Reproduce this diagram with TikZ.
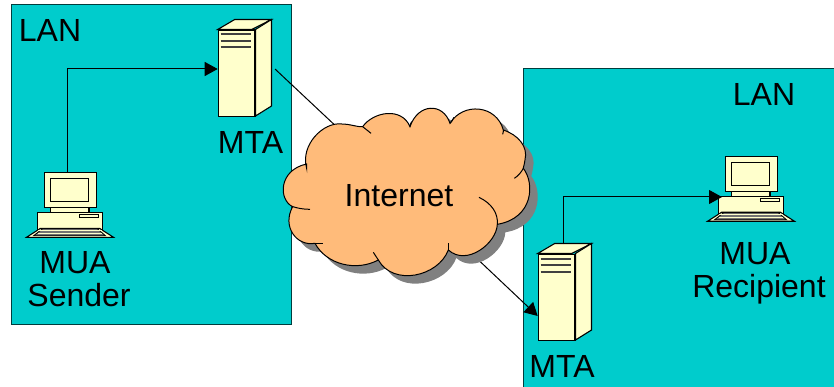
\documentclass[tikz,border=0pt]{standalone}
\usepackage{fontspec}
\setmainfont{Liberation Sans}
\usetikzlibrary{arrows.meta}
\definecolor{lancolor}{HTML}{00CCCC}
\definecolor{boxcolor}{HTML}{FFFFCC}
\definecolor{cloudcolor}{HTML}{FFBB7A}
\tikzset{
  lanbox/.style={draw=black!70!lancolor,fill=lancolor,line width=1pt},
  label/.style={font=\fontsize{32}{33}\selectfont,text=black,inner sep=0pt,align=center},
  serverface/.style={draw,fill=boxcolor,line width=1.1pt,minimum width=36.7pt,minimum height=86.5pt,inner sep=0pt},
  pcface/.style={draw,fill=boxcolor,line width=1.1pt,minimum width=52.7pt,minimum height=34.5pt,inner sep=0pt},
  link/.style={draw,line width=1pt},
  tip/.style={-{Triangle[length=13pt,width=14pt]}},
}
% the rest of a server, round its front face
\newcommand{\serverparts}[1]{
  \draw[fill=boxcolor,line width=1.1pt] (#1.north west)--++(17,-10)--++(36.7,0)--++(-19.7,10)--cycle;
  \draw[fill=boxcolor,line width=1.1pt] (#1.north east)--++(16,-10)--++(0,86.5)--++(-16,10)--cycle;
  \foreach \y in {5,11.5,18}
    \draw[line width=2pt,black!75] ([shift={(3,\y)}]#1.north west)--++(30.5,0);
}
% the rest of a computer, round its monitor
\newcommand{\pcparts}[1]{
  \draw[fill=boxcolor,line width=1.1pt] ([shift={(7,0)}]#1.south west) rectangle ++(38.5,5);
  \draw[fill=boxcolor,line width=1.1pt] ([shift={(-6.3,5)}]#1.south west) rectangle ++(65,17);
  \draw[line width=1.1pt] ([shift={(7,6)}]#1.north west) rectangle ++(38,23.5);
  \draw[fill=boxcolor,line width=.8pt] ([shift={(35.5,6.8)}]#1.south west) rectangle ++(19.5,2.6);
  \draw[fill=boxcolor,line width=1.1pt] ([shift={(-17,29.5)}]#1.south west)--++(87,0)--++(-14,-9)--++(-59,0)--cycle;
  \draw[fill=black!55,line width=.8pt] ([shift={(-10,28)}]#1.south west)--++(72,0)--++(-8,-7)--++(-55,0)--cycle;
  \foreach \y in {23,25.5}
    \draw[boxcolor,line width=1pt] ([shift={(-6,\y)}]#1.south west)--++(64,0);
}
\newcommand{\cloudpath}{
  (110,235) .. controls (90,165) and (160,95) .. (215,102)
  .. controls (240,102) and (265,112) .. (278,110)
  .. controls (310,65) and (395,50) .. (420,110)
  .. controls (445,38) and (520,38) .. (540,100)
  .. controls (580,35) and (680,45) .. (700,120)
  .. controls (745,135) and (775,170) .. (765,210)
  .. controls (765,220) and (760,230) .. (760,235)
  .. controls (795,280) and (790,385) .. (682,403)
  .. controls (680,460) and (590,530) .. (535,480)
  .. controls (505,560) and (370,590) .. (325,510)
  .. controls (260,545) and (170,525) .. (135,460)
  .. controls (80,470) and (35,410) .. (68,350)
  .. controls (25,330) and (25,240) .. (110,222)
  -- cycle
}
\begin{document}
\begin{tikzpicture}[x=1pt,y=-1pt]
  \useasboundingbox (0,0) rectangle (834,387);
  \draw[lanbox] (11,5) rectangle (291,324);
  \draw[lanbox] (523,69) rectangle (840,395);
  \node[label] (lanleft) at (50,30) {LAN};
  \node[label] (lanright) at (764,94) {LAN};
  \coordinate (cloudin) at (340,130);
  \coordinate (cloudout) at (470,252);
  \coordinate (leftout) at (275,69);
  \coordinate (pcrighttip) at (722,197);
  \node[serverface] (mtaleft) at (236.6,73.3) {};
  \node[serverface] (mtaright) at (556.6,297.3) {};
  \node[pcface] (pcleft) at (70.4,190) {};
  \node[pcface] (pcright) at (751.4,174) {};
  \coordinate (pclefttop) at ([xshift=-3.4pt]pcleft.north);
  \coordinate (mtarighttop) at (563,244);
  \draw[link] (leftout)--(cloudin);
  \draw[link,tip] (cloudout)--(mtaright.west |- 0,316);
  \draw[link,tip] (pclefttop)--(pclefttop |- 0,69)--(mtaleft.west |- 0,69);
  \serverparts{mtaleft}
  \serverparts{mtaright}
  \pcparts{pcleft}
  \pcparts{pcright}
  \draw[link,tip] (mtarighttop)--(mtarighttop |- pcrighttip)--(pcrighttip);
  \node[label] (mtaleftlabel) at (250.5,142) {MTA};
  \node[label] (mtarightlabel) at (562,366) {MTA};
  \node[label] (pcleftlabel) at (79,279) {MUA\hspace*{8pt}\\Sender};
  \node[label] (pcrightlabel) at (759,273) {MUA\hspace*{8pt}\\Recipient};
  \begin{scope}[shift={(270,90)},x=.3333pt,y=-.3333pt]
    \fill[black!50] [shift={(24,24)}] \cloudpath;
    \draw[fill=cloudcolor,line width=1pt] \cloudpath;
    \draw[line width=1pt] (110,235)--(110,222);
    \draw[line width=1pt] (278,110) .. controls (288,118) and (296,124) .. (303,130);
    \draw[line width=1pt] (420,110) .. controls (420,105) and (422,100) .. (425,95);
    \draw[line width=1pt] (540,100) .. controls (545,95) and (548,90) .. (552,82);
    \draw[line width=1pt] (700,120) .. controls (702,125) and (698,128) .. (698,133);
    \draw[line width=1pt] (760,235) .. controls (755,245) and (745,258) .. (733,265);
    \draw[line width=1pt] (682,403) .. controls (685,370) and (665,340) .. (627,322);
    \draw[line width=1pt] (535,480) -- (535,458);
    \draw[line width=1pt] (325,510) -- (310,487);
    \draw[line width=1pt] (135,460) -- (158,460);
    \draw[line width=1pt] (68,350) .. controls (85,355) and (100,358) .. (120,358);
  \end{scope}
  \node[label] (internet) at (399,196) {Internet};
\end{tikzpicture}
\end{document}
